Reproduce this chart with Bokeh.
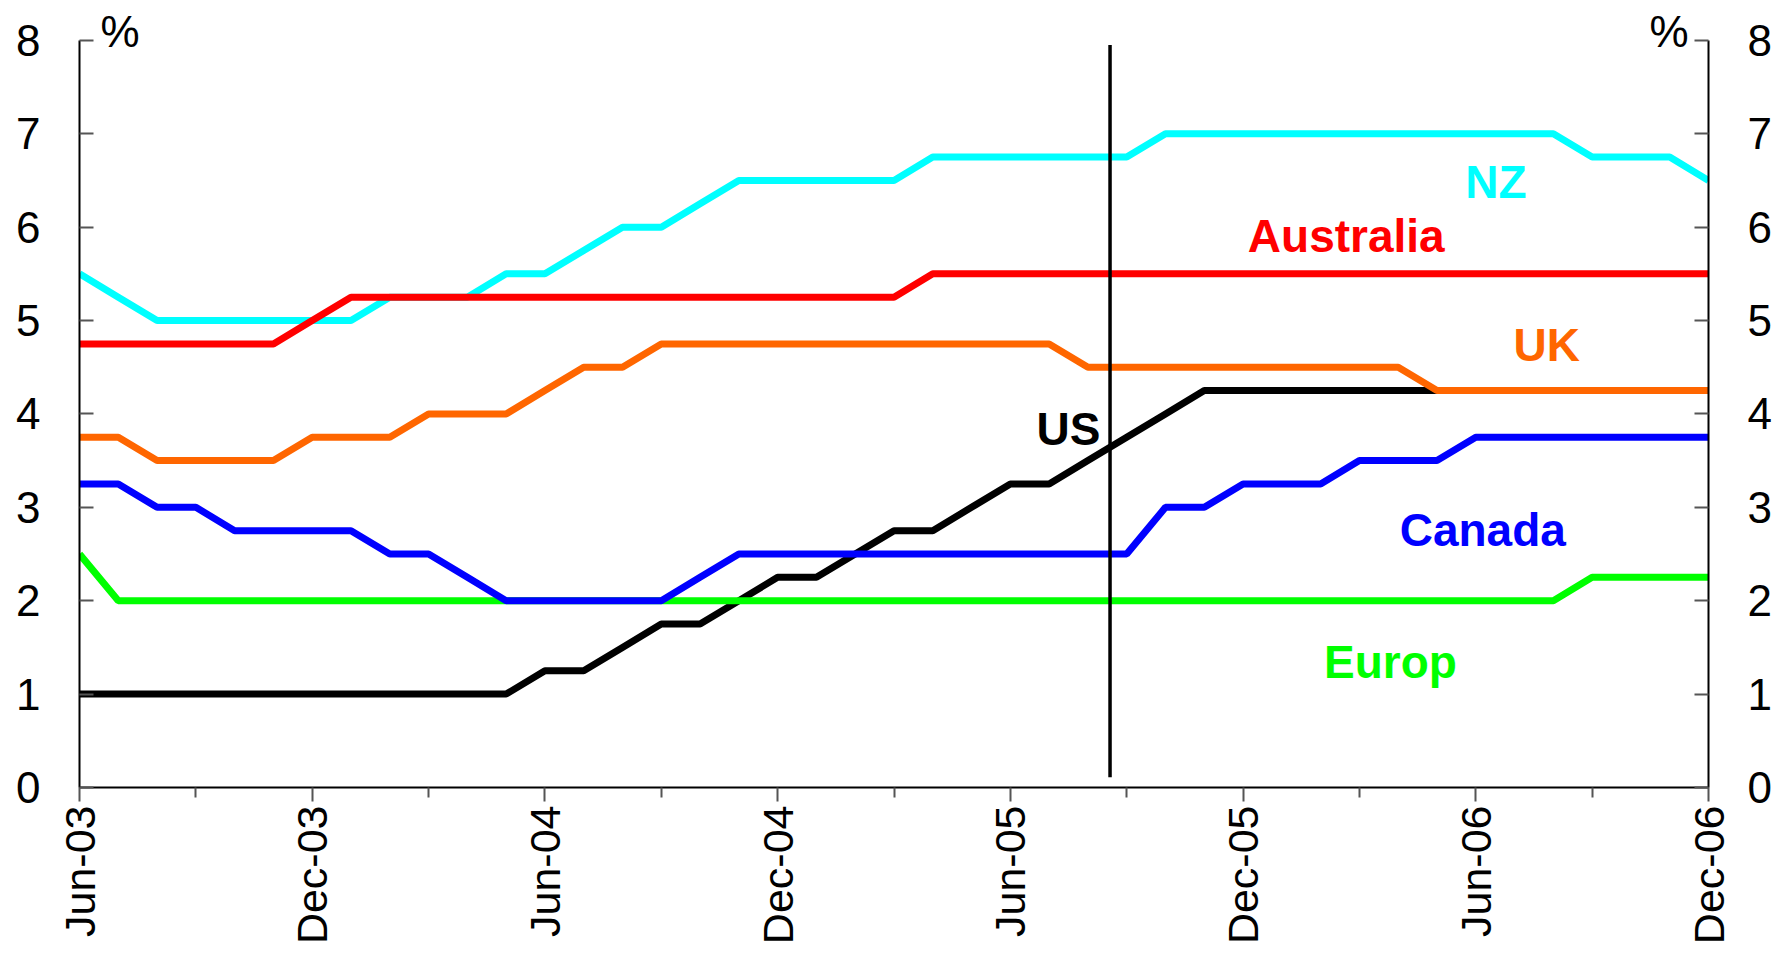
import math
from bokeh.plotting import figure
from bokeh.models import Range1d, FixedTicker, LinearAxis, Label, ColumnDataSource
from bokeh.core.properties import value
from bokeh.embed import file_html
from bokeh.resources import INLINE

# ---------------- data ----------------
# monthly observations, Jun-03 (index 0) .. Dec-06 (index 42)
month_index = list(range(43))

tick_positions = [0, 6, 12, 18, 24, 30, 36, 42]
tick_labels = ["Jun-03", "Dec-03", "Jun-04", "Dec-04", "Jun-05", "Dec-05", "Jun-06", "Dec-06"]
minor_tick_positions = [3, 9, 15, 21, 27, 33, 39]
y_ticks = [0, 1, 2, 3, 4, 5, 6, 7, 8]

us = [1.0] * 12 + [1.25, 1.25, 1.5, 1.75, 1.75, 2.0, 2.25, 2.25, 2.5, 2.75, 2.75,
                   3.0, 3.25, 3.25, 3.5, 3.75, 4.0] + [4.25] * 14
europe = [2.5] + [2.0] * 38 + [2.25] * 4
canada = ([3.25] * 2 + [3.0] * 2 + [2.75] * 4 + [2.5] * 2 + [2.25] + [2.0] * 5 + [2.25]
          + [2.5] * 11 + [3.0] * 2 + [3.25] * 3 + [3.5] * 3 + [3.75] * 7)
nz = ([5.5, 5.25] + [5.0] * 6 + [5.25] * 3 + [5.5] * 2 + [5.75] + [6.0] * 2 + [6.25]
      + [6.5] * 5 + [6.75] * 6 + [7.0] * 11 + [6.75] * 3 + [6.5])
australia = [4.75] * 6 + [5.0] + [5.25] * 15 + [5.5] * 21
uk = ([3.75] * 2 + [3.5] * 4 + [3.75] * 3 + [4.0] * 3 + [4.25] + [4.5] * 2 + [4.75] * 11
      + [4.5] * 9 + [4.25] * 8)

series_names = ["US", "Europ", "Canada", "NZ", "Australia", "UK"]
series_values = [us, europe, canada, nz, australia, uk]
series_colors = ["#000000", "#00FF00", "#0000FF", "#00FFFF", "#FF0000", "#FF6600"]

# label anchors (data units)
label_x = [25.5, 33.8, 36.18, 36.52, 32.66, 37.83]
label_y = [3.84, 1.34, 2.76, 6.48, 5.91, 4.74]

# vertical marker
event_x = [26.57]
event_y0 = [0.11]
event_y1 = [7.95]

Y_MAX = 8
FONT = "Liberation Sans"

# ---------------- figure ----------------
W, H = 1774, 947
FRAME_L, FRAME_R, FRAME_T, FRAME_B = 79, 1710, 0, 790
AXIS_TOP_PX = 40  # pixel where the value Y_MAX sits
y_end = Y_MAX * (FRAME_B - FRAME_T) / (FRAME_B - AXIS_TOP_PX)

p = figure(width=W, height=H,
           x_range=Range1d(0, 42), y_range=Range1d(0, y_end),
           output_backend="svg", toolbar_location=None,
           min_border_left=FRAME_L, min_border_right=W - FRAME_R,
           min_border_top=FRAME_T, min_border_bottom=H - FRAME_B)
p.outline_line_color = None
p.xgrid.visible = False
p.ygrid.visible = False
p.background_fill_color = "white"
p.border_fill_color = "white"

# x axis
xa = p.xaxis[0]
xa.ticker = FixedTicker(ticks=tick_positions, minor_ticks=minor_tick_positions)
xa.major_label_overrides = {t: l for t, l in zip(tick_positions, tick_labels)}
xa.major_label_orientation = math.pi / 2
xa.major_tick_in = 0
xa.major_tick_out = 14
xa.minor_tick_in = 0
xa.minor_tick_out = 10
xa.major_tick_line_color = "#555555"
xa.minor_tick_line_color = "#555555"
xa.major_tick_line_width = 2
xa.minor_tick_line_width = 2
xa.axis_line_color = "black"
xa.axis_line_width = 2
xa.major_label_standoff = 4
xa.major_label_text_font = FONT
xa.major_label_text_font_size = "43px"
xa.major_label_text_color = "black"


def style_y(ax):
    ax.ticker = FixedTicker(ticks=y_ticks, minor_ticks=[])
    ax.bounds = (0, Y_MAX)
    ax.major_tick_in = 14
    ax.major_tick_out = 0
    ax.minor_tick_in = 0
    ax.minor_tick_out = 0
    ax.major_tick_line_color = "#555555"
    ax.major_tick_line_width = 2
    ax.axis_line_color = "black"
    ax.axis_line_width = 2
    ax.major_label_standoff = 39
    ax.major_label_text_font = FONT
    ax.major_label_text_font_size = "44px"
    ax.major_label_text_color = "black"


style_y(p.yaxis[0])
ra = LinearAxis()
style_y(ra)
p.add_layout(ra, "right")

# lines
for vals, col in zip(series_values, series_colors):
    p.line(x=month_index, y=vals, line_color=col, line_width=7)

# vertical marker
p.segment(x0=event_x, y0=event_y0, x1=event_x, y1=event_y1,
          line_color="black", line_width=3.5)

# series labels
src = ColumnDataSource(dict(x=label_x, y=label_y, text=series_names, color=series_colors))
p.text(x="x", y="y", text="text", text_color="color", source=src,
       text_font=value(FONT), text_font_style="bold", text_font_size="46px",
       text_align="center", text_baseline="alphabetic")

# % unit labels
p.add_layout(Label(x=0.54, y=8.10, text="%", text_font=FONT, text_font_size="44px",
                   text_align="left", text_baseline="alphabetic", text_color="black"))
p.add_layout(Label(x=41.49, y=8.10, text="%", text_font=FONT, text_font_size="44px",
                   text_align="right", text_baseline="alphabetic", text_color="black"))

open("out.html", "w").write(file_html(p, INLINE))
